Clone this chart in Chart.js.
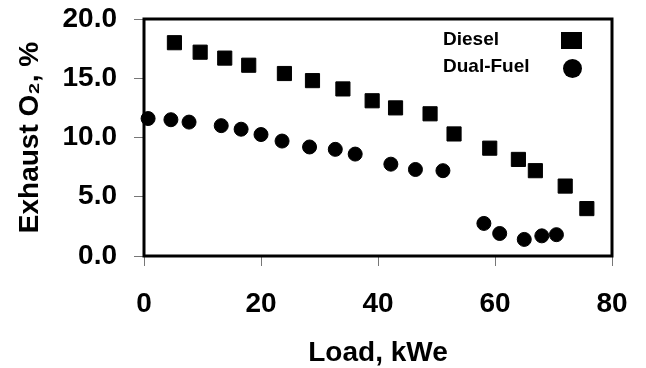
<!DOCTYPE html>
<html>
<head>
<meta charset="utf-8">
<script src="https://cdn.jsdelivr.net/npm/chart.js@4/dist/chart.umd.min.js"></script>
<style>
  html, body { margin: 0; padding: 0; background: #fff; }
  #wrap { width: 646px; height: 368px; }
</style>
</head>
<body>
<div id="wrap"><canvas id="myChart" width="646" height="368"></canvas></div>
<script>
// values
var dieselLoad = [5.2, 9.6, 13.8, 17.9, 24.0, 28.8, 34.0, 39.0, 43.0, 48.9, 53.0, 59.1, 64.0, 66.9, 72.0, 75.7];
var dieselO2 = [18.0, 17.2, 16.7, 16.1, 15.4, 14.8, 14.1, 13.1, 12.5, 12.0, 10.3, 9.1, 8.15, 7.2, 5.9, 4.0];
var dualLoad = [0.7, 4.6, 7.7, 13.2, 16.6, 20.0, 23.6, 28.3, 32.7, 36.1, 42.2, 46.4, 51.1, 58.1, 60.8, 65.0, 68.0, 70.5];
var dualO2 = [11.6, 11.5, 11.3, 11.0, 10.7, 10.25, 9.7, 9.2, 9.0, 8.6, 7.75, 7.3, 7.2, 2.75, 1.9, 1.4, 1.7, 1.8];
var seriesNames = ['Diesel', 'Dual-Fuel'];

function pairs(xs, ys) {
  var out = [];
  for (var i = 0; i < xs.length; i++) out.push({ x: xs[i], y: ys[i] });
  return out;
}

var FONT = "'Liberation Sans', Arial, sans-serif";

// box round the plot + legend in the top right corner
var frame = {
  id: 'frame',
  afterDraw: function(chart) {
    var c = chart.ctx, a = chart.chartArea;
    c.save();
    c.strokeStyle = '#000';
    c.lineWidth = 3;
    c.strokeRect(a.left, a.top, a.right - a.left, a.bottom - a.top);

    c.font = 'bold 19px ' + FONT;
    c.fillStyle = '#000';
    c.textBaseline = 'middle';
    c.textAlign = 'left';
    c.fillText(seriesNames[0], 443, 40);
    c.fillText(seriesNames[1], 443, 67);
    c.fillRect(561, 32, 21, 17);
    c.beginPath();
    c.arc(572.5, 68.5, 9.5, 0, Math.PI * 2);
    c.fill();
    c.restore();
  }
};

window.onload = function() {
  var ctx = document.getElementById('myChart').getContext('2d');

  var params = {
    type: 'scatter',
    data: {
      datasets: [
        {
          label: seriesNames[0],
          data: pairs(dieselLoad, dieselO2),
          pointStyle: 'rect',
          pointRadius: 10,
          borderWidth: 1,
          backgroundColor: '#000',
          borderColor: '#000',
          clip: false
        },
        {
          label: seriesNames[1],
          data: pairs(dualLoad, dualO2),
          pointStyle: 'circle',
          pointRadius: 7,
          borderWidth: 1,
          backgroundColor: '#000',
          borderColor: '#000',
          clip: false
        }
      ]
    },
    options: {
      responsive: false,
      animation: false,
      events: [],
      layout: { padding: { left: 16, right: 34, top: 19, bottom: 0 } },
      plugins: {
        legend: { display: false },
        tooltip: { enabled: false }
      },
      scales: {
        x: {
          type: 'linear',
          min: 0,
          max: 80,
          border: { display: false },
          grid: { drawOnChartArea: false, tickLength: 10, color: '#777', lineWidth: 1 },
          ticks: {
            stepSize: 20,
            padding: 24,
            color: '#000',
            font: { family: FONT, size: 28, weight: 'bold', lineHeight: 1 }
          },
          title: {
            display: true,
            text: 'Load, kWe',
            color: '#000',
            padding: { top: 0, bottom: 1 },
            font: { family: FONT, size: 28, weight: 'bold', lineHeight: 1 }
          },
          afterFit: function(s) {
            s.height = 112;
            s.paddingLeft = 0;
            s.paddingRight = 0;
          }
        },
        y: {
          min: 0,
          max: 20,
          border: { display: false },
          grid: { drawOnChartArea: false, tickLength: 10, color: '#777', lineWidth: 1 },
          ticks: {
            stepSize: 5,
            padding: 17,
            color: '#000',
            font: { family: FONT, size: 28, weight: 'bold', lineHeight: 1 },
            callback: function(v) { return v.toFixed(1); }
          },
          title: {
            display: true,
            text: 'Exhaust O\u2082, %',
            color: '#000',
            padding: { top: 0, bottom: 0 },
            font: { family: FONT, size: 28, weight: 'bold', lineHeight: 1 }
          },
          afterFit: function(s) {
            s.width = 128;
            s.paddingTop = 0;
            s.paddingBottom = 0;
          }
        }
      }
    },
    plugins: [frame]
  };

  var chart = new Chart(ctx, params);
};
</script>
</body>
</html>
